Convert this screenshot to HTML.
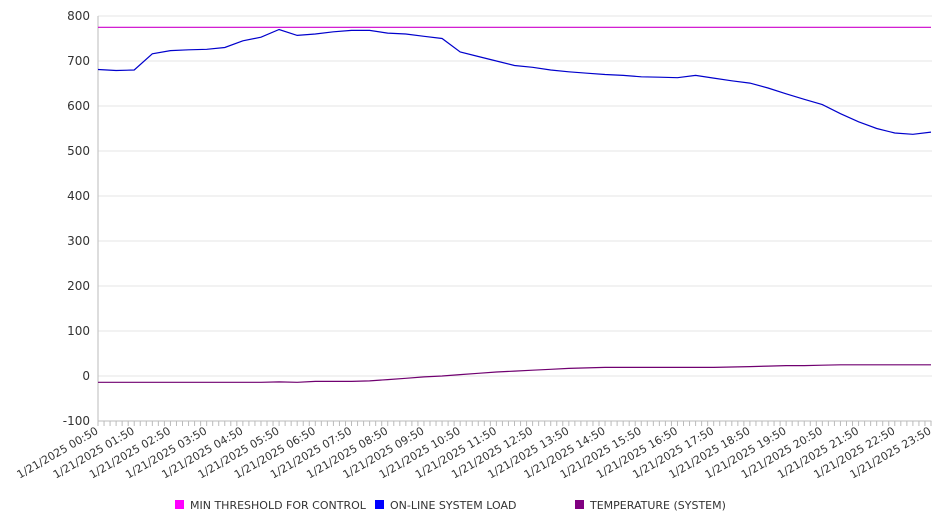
<!DOCTYPE html>
<html><head><meta charset="utf-8"><style>
body{margin:0;background:#fff;width:946px;height:526px;overflow:hidden;font-family:"DejaVu Sans","Liberation Sans",sans-serif;}
svg{display:block}
</style></head><body>
<svg id="chart" width="946" height="526" xmlns="http://www.w3.org/2000/svg"></svg>
<script>
const yTicks=[800,700,600,500,400,300,200,100,0,-100];
const xLabels=["00:50","01:50","02:50","03:50","04:50","05:50","06:50","07:50","08:50","09:50","10:50","11:50","12:50","13:50","14:50","15:50","16:50","17:50","18:50","19:50","20:50","21:50","22:50","23:50"];
const threshold=[775,775];
const loadSeries=[681,679,680,716,723,725,726,730,745,753,770,757,760,765,768,768,762,760,755,750,720,710,700,690,686,680,676,673,670,668,665,664,663,668,662,656,651,640,627,615,603,583,565,550,540,537,542];
const tempSeries=[-14,-14,-14,-14,-14,-14,-14,-14,-14,-14,-13,-14,-12,-12,-12,-11,-8,-5,-2,0,3,6,9,11,13,15,17,18,19,19,19,19,19,19,19,20,21,22,23,23,24,25,25,25,25,25,25];
const datePrefix="1/21/2025 ";
const NS="http://www.w3.org/2000/svg";
const svg=document.getElementById('chart');
const X0=98,X1=931,Y0=16,Y1=421;
const yMax=800,yMin=-100;
function yS(v){return Y0+(yMax-v)/(yMax-yMin)*(Y1-Y0);}
function xS(i,n){return X0+i/(n-1)*(X1-X0);}
function mk(t,a){const e=document.createElementNS(NS,t);for(const k in a)e.setAttribute(k,a[k]);svg.appendChild(e);return e;}
yTicks.forEach(v=>{
  const g=mk('line',{x1:X0,x2:X1+1,y1:yS(v),y2:yS(v),stroke:'#e6e6e6','stroke-width':1});
  
  
  const t=mk('text',{x:90,y:yS(v)+4,'text-anchor':'end','font-size':12,fill:'#333'});
  t.textContent=v;
  
  
});
const ax=mk('line',{x1:X0,x2:X0,y1:Y0,y2:Y1,stroke:'#bbb','stroke-width':1});


const bx=mk('line',{x1:X0,x2:X1,y1:Y1,y2:Y1,stroke:'#bbb','stroke-width':1});


const nMinor=(xLabels.length-1)*6;
for(let i=0;i<=nMinor;i++){
  const x=xS(i,nMinor+1);
  const m=mk('line',{x1:x,x2:x,y1:Y1,y2:Y1+5,stroke:'#bbb','stroke-width':1});
  
  
}
xLabels.forEach((l,i)=>{
  const x=xS(i,xLabels.length)+1;
  const y=Y1+12;
  const t=mk('text',{x:x,y:y,'text-anchor':'end','font-size':11,fill:'#333',transform:`rotate(-30 ${x} ${y})`});
  t.textContent=datePrefix+l;
  
  
});
function line(arr,color,name,w){
  const pts=arr.map((v,i)=>xS(i,arr.length).toFixed(1)+','+yS(v).toFixed(1)).join(' ');
  const p=mk('polyline',{points:pts,fill:'none',stroke:color,'stroke-width':w});
  
  
}
line(threshold,'#cc00cc','min-threshold-line',1.2);
line(loadSeries,'#0000cc','online-system-load-line',1.2);
line(tempSeries,'#700070','temperature-line',1.2);
const legend=[["MIN THRESHOLD FOR CONTROL","#ff00ff",175],["ON-LINE SYSTEM LOAD","#0000ff",375],["TEMPERATURE (SYSTEM)","#800080",575]];
legend.forEach(l=>{
  const r=mk('rect',{x:l[2],y:500,width:9,height:9,fill:l[1]});
  
  
  const t=mk('text',{x:l[2]+15,y:509,'font-size':11,fill:'#333'});
  t.textContent=l[0];
  
  
});
</script>
</body></html>
